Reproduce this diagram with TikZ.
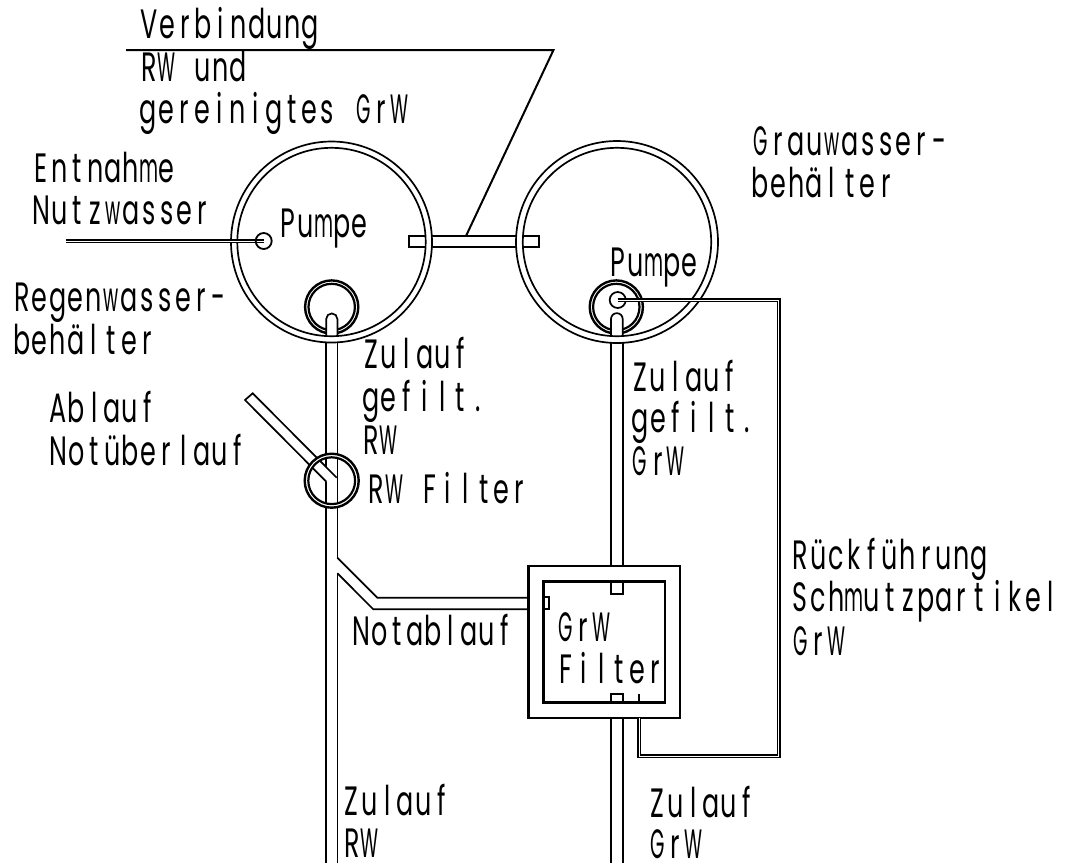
\documentclass[tikz,border=0pt]{standalone}
\usepackage{fontspec}
\newfontfamily\cellnorm[FakeStretch=0.62]{Poppins}
\newfontfamily\cellslim[FakeStretch=0.45]{Poppins}
\newsavebox\fitbox
\makeatletter
\newcommand\cellglyph[1]{\sbox\fitbox{\cellnorm #1}\ifdim\wd\fitbox>18.6pt \sbox\fitbox{\cellslim #1}\fi\makebox[17.9pt][c]{\usebox\fitbox}}
\newcommand\celltext[1]{\@tfor\cellgl:=#1\do{\cellglyph{\cellgl}}}
\makeatother
\newcommand\lab[4]{\node[lbl] (#1) at (#2,#3) {\celltext{#4}};}
\tikzset{
  lbl/.style={anchor=base west,inner sep=0pt,outer sep=0pt,text=black},
  thin line/.style={draw=black,line width=1.7pt,line join=miter},
  heavy line/.style={draw=black,line width=2.8pt,line join=miter},
  close pair/.style={draw=black,line width=1.4pt,double=white,double distance=1pt,line join=miter},
  mask/.style={draw=white,line cap=butt}
}
\begin{document}
\begin{tikzpicture}[x=1pt,y=-1pt,font=\fontsize{41}{44}\selectfont]
\useasboundingbox (0,0) rectangle (1071,863);
\fill[white] (0,0) rectangle (1071,863);

% leader
\draw[thin line,line width=2pt] (126,50) -- (553.5,50) -- (466,236);

% connecting tube between the tanks
\draw[thin line,fill=white] (409,235.7) rectangle (539,247);

% pumps at the tank bottoms
\foreach \cx in {331.7,616.3}{
  \draw[heavy line,line width=2.4pt] (\cx,307) circle[radius=26.6];
  \draw[heavy line,line width=2.2pt] (\cx,307) circle[radius=23.2];
}
\draw[thin line] (617.7,300) circle[radius=8];

% pipe heads inside the pumps
\draw[thin line,fill=white] (326.2,340) -- (326.2,319) arc[start angle=180,end angle=360,radius=5.6] -- (337.4,340);
\draw[thin line,fill=white] (611,340) -- (611,319) arc[start angle=180,end angle=360,radius=5.85] -- (622.7,340);

% tanks
\foreach \cx/\rr in {331.5/100.5,617/101}{
  \draw[mask,line width=7pt] (\cx,242) circle[radius=97.3];
  \draw[thin line] (\cx,242) circle[radius=\rr];
  \draw[thin line] (\cx,242) circle[radius=94.2];
}

% rain water line
\draw[thin line] (326.3,342.7) -- (326.3,467);
\draw[thin line] (326.3,481.7) -- (326.3,863);
\draw[thin line] (337.4,342.7) -- (337.4,557.7);
\draw[thin line] (337.4,573.3) -- (337.4,863);
% overflow
\draw[thin line,line join=miter] (336.7,477.7) -- (252.7,393.3) -- (245,400) -- (326.3,481.7);
% emergency drain
\draw[thin line] (337.4,557.7) -- (377.3,597.7) -- (528.7,597.7);
\draw[thin line] (337.4,573.3) -- (373.3,609.3) -- (528.7,609.3);

% RW filter ring
\draw[mask,line width=3.5pt] (331.7,480.7) circle[radius=25.2];
\draw[heavy line,line width=2.4pt] (331.7,480.7) circle[radius=27];
\draw[heavy line,line width=2.2pt] (331.7,480.7) circle[radius=23.4];

% grey water line
\draw[thin line] (611,342.7) -- (611,566);
\draw[thin line] (622.7,342.7) -- (622.7,566);
\draw[thin line] (611,718) -- (611,863);
\draw[thin line] (622.7,718) -- (622.7,863);

% GrW filter
\draw[heavy line] (528.7,566) rectangle (680,718);
\draw[heavy line] (543.3,581.7) rectangle (665,702.3);
\draw[thin line] (611,581.7) -- (611,594) -- (622.7,594) -- (622.7,581.7);
\draw[thin line] (611,702.3) -- (611,694) -- (622.7,694) -- (622.7,702.3);
\draw[thin line] (543.3,597.3) -- (549.3,597.3) -- (549.3,609.3) -- (543.3,609.3);
\draw[heavy line] (639,694) -- (639,702.3);

% return line and extraction line
\draw[close pair] (617.7,300) -- (778.7,300) -- (778.7,756) -- (639,756) -- (639,718);
\draw[close pair,line width=1.2pt] (65.8,241) -- (263.7,241);
\draw[thin line,line width=1.8pt] (263.7,241) circle[radius=8];

% labels
\lab{t1}{140.5}{38.7}{Verbindung}
\lab{t2}{140}{81}{RW~und}
\lab{t3}{139.5}{123}{gereinigtes~GrW}
\lab{t4}{32.5}{182}{Entnahme}
\lab{t5}{32.5}{224.7}{Nutzwasser}
\lab{t6}{279}{237}{Pumpe}
\lab{t7}{13}{311.7}{Regenwasser-}
\lab{t8}{13}{354.7}{behälter}
\lab{t9}{362}{368.5}{Zulauf}
\lab{t10}{362}{411.7}{gefilt.}
\lab{t11}{362}{454}{RW}
\lab{t12}{49.5}{422}{Ablauf}
\lab{t13}{49.5}{465}{Notüberlauf}
\lab{t14}{367.5}{503.3}{RW~Filter}
\lab{t15}{352.5}{645.7}{Notablauf}
\lab{t16}{556.5}{641.7}{GrW}
\lab{t17}{556.5}{683}{Filter}
\lab{t18}{342.8}{815.7}{Zulauf}
\lab{t19}{342.8}{857.7}{RW}
\lab{t20}{648.5}{817}{Zulauf}
\lab{t21}{648.5}{858}{GrW}
\lab{t22}{631.2}{391}{Zulauf}
\lab{t23}{631.2}{432.7}{gefilt.}
\lab{t24}{631.2}{475.7}{GrW}
\lab{t25}{751.5}{155}{Grauwasser-}
\lab{t26}{751.5}{197.3}{behälter}
\lab{t27}{609}{276.7}{Pumpe}
\lab{t28}{791.5}{569}{Rückführung}
\lab{t29}{791.5}{611.7}{Schmutzpartikel}
\lab{t30}{791.5}{655}{GrW}
\end{tikzpicture}
\end{document}
